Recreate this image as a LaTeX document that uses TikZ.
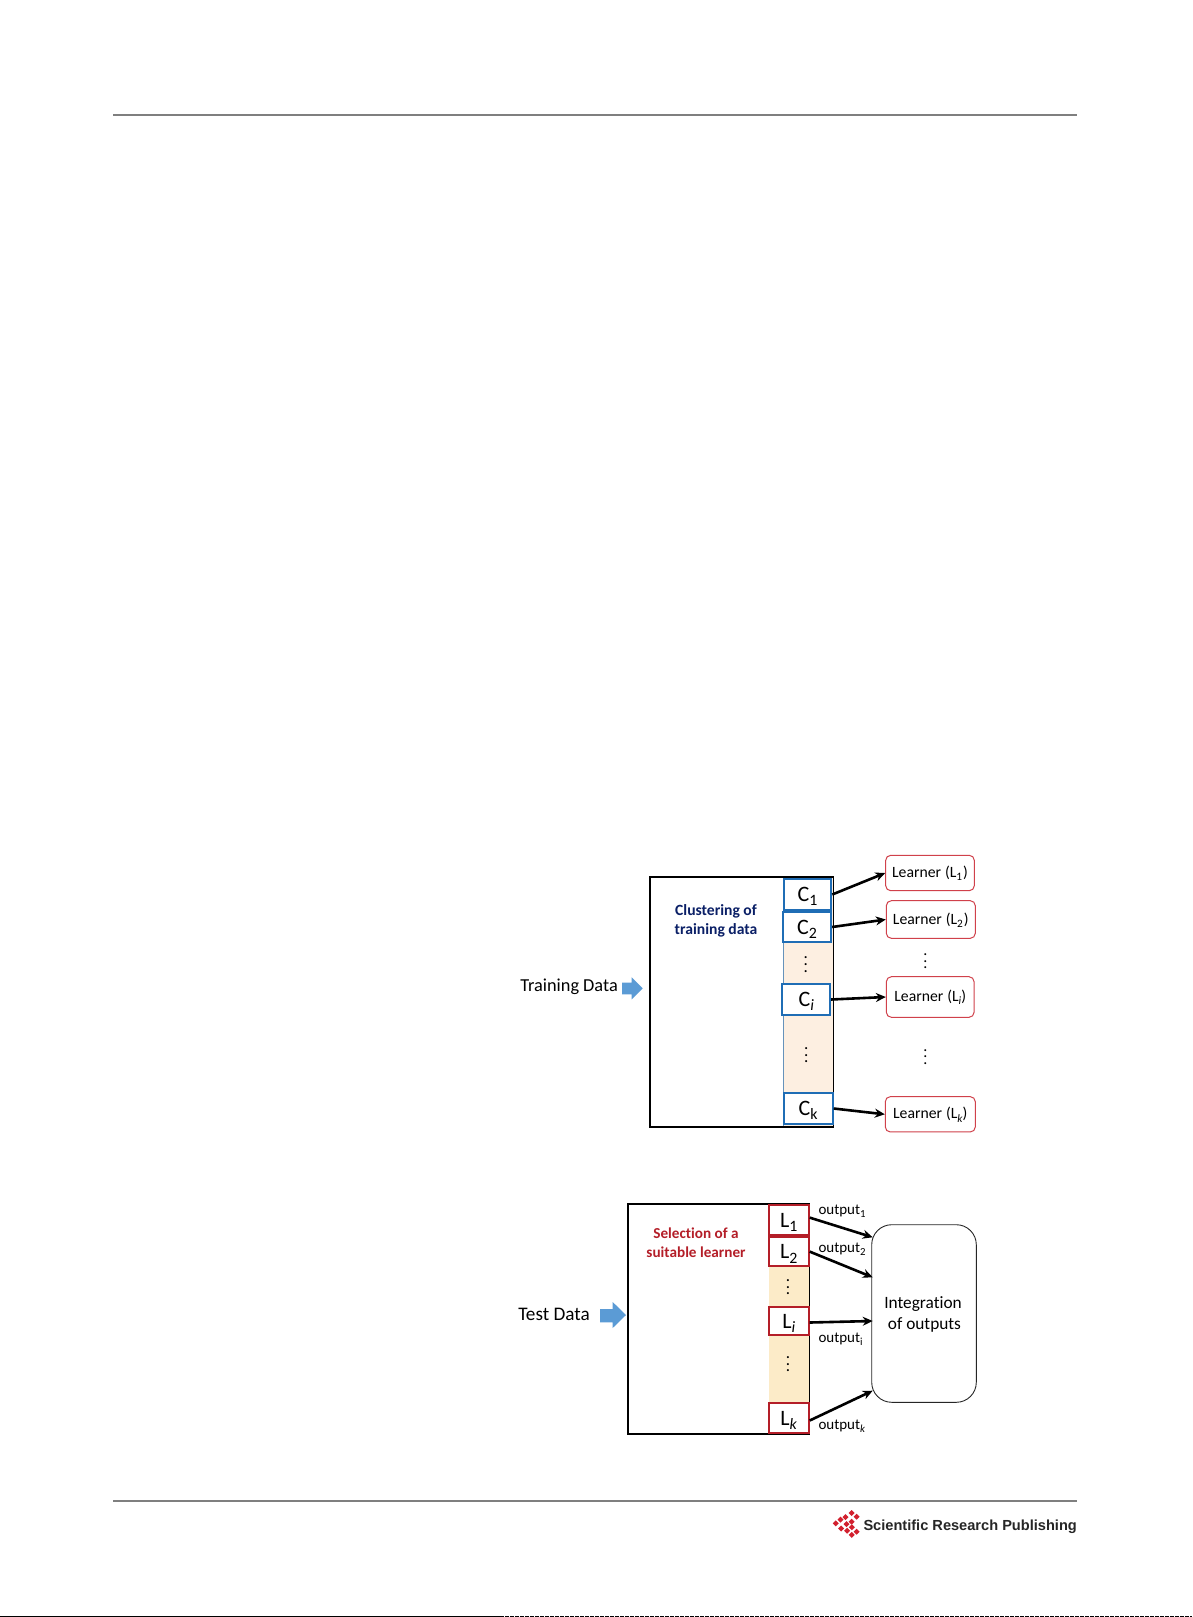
\documentclass[tikz,border=0pt]{standalone}
\usepackage{fontspec}
\setmainfont[Ligatures=NoCommon]{Carlito}
\newfontfamily\logofont{Liberation Sans}
\usetikzlibrary{arrows.meta}
\newcommand{\sbs}[1]{\raisebox{-0.2em}[0pt][0pt]{\fontsize{0.72em}{0.7em}\selectfont #1}}
\newcommand{\vd}[1]{\raisebox{-0.15em}{\scalebox{#1}{$\vdots$}}}
\newcommand{\dn}[2]{\raisebox{-#1pt}{#2}}
\definecolor{ruleg}{HTML}{7F7F7F}
\definecolor{cblue}{HTML}{1F6DB5}
\definecolor{lred}{HTML}{D0414B}
\definecolor{sred}{HTML}{B41E28}
\definecolor{blockb}{HTML}{5B9BD5}
\definecolor{stripC}{HTML}{FDEFE1}
\definecolor{stripD}{HTML}{FCEBC8}
\definecolor{navy}{HTML}{0A1F66}
\definecolor{logored}{HTML}{D2202E}
\tikzset{
  x=1pt,y=-1pt,
  rulestyle/.style={draw=ruleg,line width=1.8pt},
  mainbox/.style={draw=black,line width=2pt,fill=white,inner sep=0pt},
  cbox/.style={draw=cblue,line width=2pt,fill=white,inner sep=0pt,font=\fontsize{22}{22}\selectfont},
  lbox/.style={draw=sred,line width=2pt,fill=white,inner sep=0pt,font=\fontsize{22}{22}\selectfont},
  learner/.style={draw=lred,line width=1pt,rounded corners=5pt,fill=white,inner sep=0pt,font=\fontsize{15.7}{16}\selectfont},
  integ/.style={draw=black!85,line width=0.9pt,rounded corners=20pt,fill=white,inner sep=0pt},
  conn/.style={draw=black,line width=2.6pt,-{Stealth[length=10pt,width=9pt]}},
  bigtxt/.style={inner sep=0pt,font=\fontsize{18.3}{20}\selectfont},
  outtxt/.style={inner sep=0pt,anchor=west,font=\fontsize{15}{16}\selectfont},
  head/.style={inner sep=0pt,align=center,font=\bfseries\fontsize{15.6}{19}\selectfont},
  dotsn/.style={inner sep=0pt},
}
\newcommand{\dm}[2]{\fill[logored] (#1-3,#2) -- (#1,#2-3) -- (#1+3,#2) -- (#1,#2+3) -- cycle;}
\begin{document}
\begin{tikzpicture}
\useasboundingbox (0,0) rectangle (1192,1617);
\fill[white] (0,0) rectangle (1192,1617);
% rules
\coordinate (ra) at (113,114.7); \coordinate (rb) at (1076.5,114.7);
\coordinate (rc) at (113,1500.7); \coordinate (rd) at (1076.5,1500.7);
\draw[rulestyle] (ra) -- (rb);
\draw[rulestyle] (rc) -- (rd);
\coordinate (ba) at (0,1616.4); \coordinate (bm) at (500,1616.4); \coordinate (bb) at (1192,1616.4);
\draw[black,line width=1.2pt] (ba) -- (bm);
\draw[black,line width=1.2pt,dash pattern=on 4pt off 1pt] (bm) -- (bb);
% top diagram
\node[mainbox,minimum width=183.5pt,minimum height=250pt] (box1) at (741.7,1001.7) {};
\fill[stripC] (783,878) rectangle (832.5,1125.5);
\draw[blockb!70!gray,line width=1pt] (783,878) -- (783,1125.5);
\node[cbox,minimum width=47.5pt,minimum height=31pt] (c1) at (807.5,894.5) {\dn{1}{C\sbs{1}}};
\node[cbox,minimum width=48.5pt,minimum height=30.6pt] (c2) at (806.9,927) {\dn{1}{C\sbs{2}}};
\node[cbox,minimum width=47.7pt,minimum height=31pt] (ci) at (806.2,999.5) {\dn{1}{C\sbs{\textit{i}}}};
\node[cbox,minimum width=49pt,minimum height=31.6pt] (ck) at (808.2,1108.5) {\dn{1}{C\sbs{k}}};
\node[dotsn] (d1) at (805.7,959.5) {\vd{1.7}};
\node[dotsn] (d2) at (806.3,1050) {\vd{1.7}};
\node[learner,minimum width=88.6pt,minimum height=35.4pt] (l1) at (930,873) {\dn{1.5}{Learner\hspace{4pt}(L\sbs{1}\hspace{1pt})}};
\node[learner,minimum width=89pt,minimum height=37.6pt] (l2) at (930.8,919.5) {\dn{1.5}{Learner\hspace{4pt}(L\sbs{2}\hspace{1pt})}};
\node[learner,minimum width=87.7pt,minimum height=40.6pt] (li) at (930.2,997) {\dn{1.5}{Learner\hspace{4pt}(L\sbs{\textit{i}})}};
\node[learner,minimum width=90pt,minimum height=35.3pt] (lk) at (930.3,1114.3) {\dn{1.5}{Learner\hspace{4pt}(L\sbs{\textit{k}})}};
\node[dotsn] (d3) at (925.3,956.5) {\vd{1.6}};
\node[dotsn] (d4) at (925.3,1052) {\vd{1.6}};
\draw[conn] (c1.east) -- (l1.west);
\draw[conn] (c2.east) -- (l2.west);
\draw[conn] (ci.east) -- (li.west);
\draw[conn] (ck.east) -- (lk.west);
\node[head,text=navy] (t1) at (716,920.5) {Clustering of\\training data};
\node[bigtxt,anchor=east] (td) at (618,987) {Training Data};
\fill[blockb] (622,982.7) -- (631.7,982.7) -- (631.7,977.3) -- (642.7,988.3) -- (631.7,999.3) -- (631.7,994.3) -- (622,994.3) -- cycle;
% bottom diagram
\node[mainbox,minimum width=181.3pt,minimum height=230pt] (box2) at (718.7,1319) {};
\fill[stripD] (768.7,1205) rectangle (808.7,1433);
\node[lbox,minimum width=40pt,minimum height=29.7pt] (m1) at (788.7,1220.1) {\dn{1}{L\sbs{1}}};
\node[lbox,minimum width=40pt,minimum height=28.7pt] (m2) at (788.7,1251.6) {\dn{1}{L\sbs{2}}};
\node[lbox,minimum width=40pt,minimum height=28.6pt] (mi) at (788.7,1321) {\dn{1}{L\sbs{\textit{i}}}};
\node[lbox,minimum width=40pt,minimum height=29.4pt] (mk) at (788.7,1418) {\dn{1}{L\sbs{\textit{k}}}};
\node[dotsn] (d5) at (788,1282) {\vd{1.7}};
\node[dotsn] (d6) at (788,1359) {\vd{1.7}};
\node[integ,minimum width=104.6pt,minimum height=177.6pt] (int) at (924,1313.5) {};
\node[inner sep=0pt,font=\fontsize{17.3}{21}\selectfont,align=center] (intt) at (923,1314) {Integration\\\hspace{3pt}of outputs};
\coordinate (e1) at (872.7,1237.3);
\coordinate (e2) at (872.7,1277.3);
\coordinate (ei) at (872.7,1321);
\coordinate (ek) at (872.7,1390.7);
\draw[conn] ([yshift=2.5pt]m1.east) -- (e1);
\draw[conn] (m2.east) -- (e2);
\draw[conn] ([yshift=-1.5pt]mi.east) -- (ei);
\draw[conn] ([yshift=-2.5pt]mk.east) -- (ek);
\node[outtxt] (o1) at (818.3,1211) {output\sbs{1}};
\node[outtxt] (o2) at (818.3,1248.5) {output\sbs{2}};
\node[outtxt] (oi) at (818.3,1338.5) {output\sbs{i}};
\node[outtxt] (ok) at (818.3,1425.5) {output\sbs{\textit{k}}};
\node[head,text=sred,font=\bfseries\fontsize{15.2}{19}\selectfont] (t2) at (696,1242.5) {Selection of a\\suitable learner};
\node[bigtxt,anchor=east,font=\fontsize{19.2}{20}\selectfont] (tsd) at (590,1314) {Test Data};
\fill[blockb] (600,1309) -- (612.7,1309) -- (612.7,1302) -- (626,1315) -- (612.7,1328) -- (612.7,1322.3) -- (600,1322.3) -- cycle;
% logo
\dm{851.7}{1513}\dm{856.7}{1516.7}\dm{845.5}{1517}\dm{851.7}{1521.7}
\dm{840.5}{1519.5}\dm{835.8}{1523.3}\dm{846.5}{1524}\dm{841.2}{1528.5}
\dm{847.2}{1530.7}\dm{851.7}{1534.8}\dm{856.7}{1531.7}\dm{851.9}{1527.3}
\node[inner sep=0pt,anchor=west,font=\logofont\bfseries\fontsize{14.6}{15}\selectfont,text=black!85] (lg) at (863.3,1527) {Scientific Research Publishing};
\end{tikzpicture}
\end{document}
